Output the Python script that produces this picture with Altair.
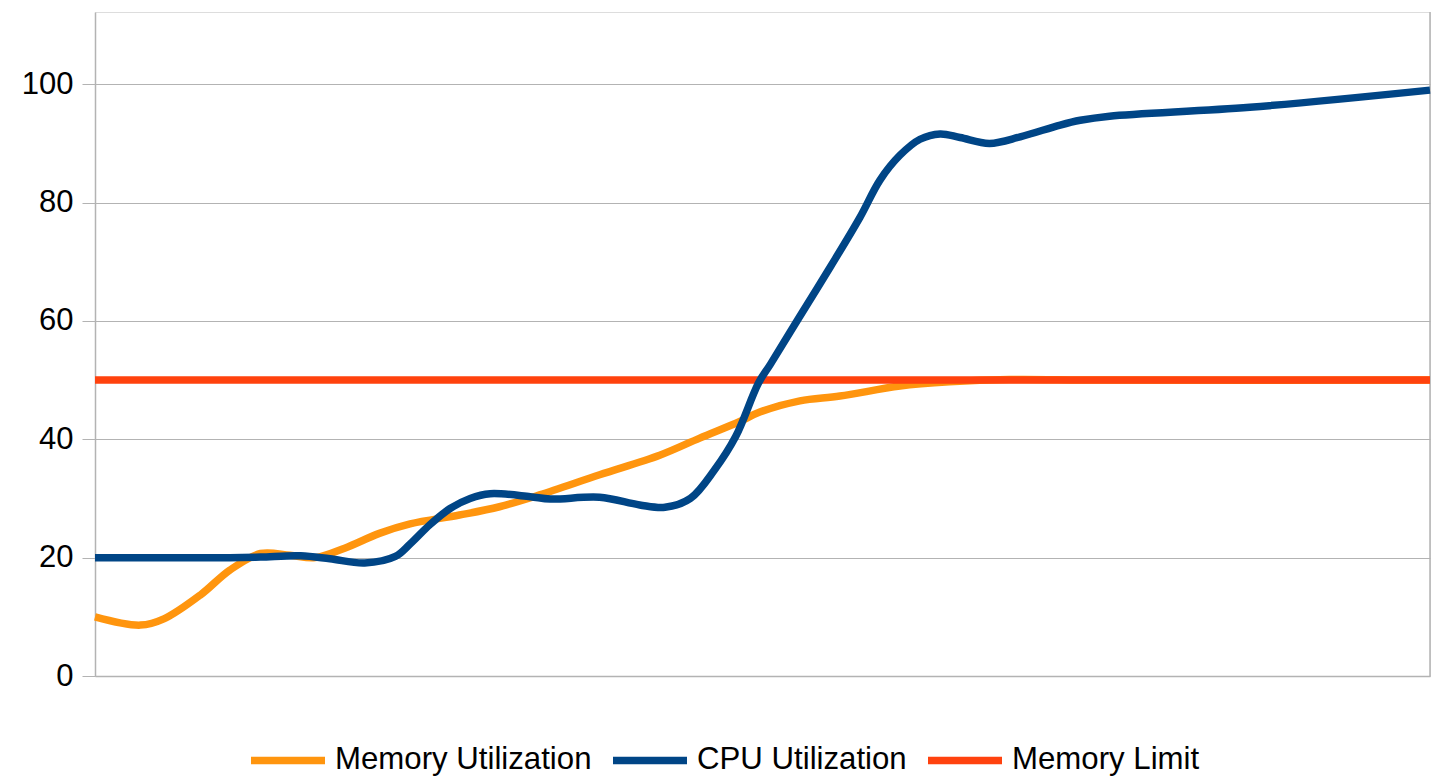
import altair as alt
import pandas as pd

# Time axis (0..100, unlabeled in the reference)
mem_x = [0, 3.4, 5.2, 7.9, 10.1, 12.4, 14.6, 16.5, 18.7, 21.3, 23.6, 27.3, 30.3, 33.3,
         37.8, 42.3, 45.3, 48.3, 49.8, 52.8, 55.8, 60.3, 64.0, 68.5, 75.3, 100]
mem_y = [10, 8.6, 9.7, 13.7, 17.9, 20.7, 20.4, 20.0, 21.6, 24.1, 25.7, 27.2, 28.6, 30.6,
         34, 37.3, 40.2, 43, 44.6, 46.5, 47.3, 49, 49.7, 50.1, 50, 50]

cpu_x = [0, 10.1, 12.4, 15.4, 17.6, 20.2, 22.5, 23.6, 25.1, 26.6, 28.1, 29.6, 32.6, 34.1,
         37.8, 40.8, 42.7, 44.6, 46.4, 48.0, 49.7, 50.6, 52.8, 55.1, 57.3, 58.8, 60.3,
         61.8, 63.3, 64.8, 67.0, 69.3, 72.3, 73.8, 76.0, 86.5, 100]
cpu_y = [20, 20, 20.1, 20.3, 19.8, 19.1, 20.2, 22.3, 25.6, 28.3, 30.0, 30.8, 30.3, 29.9,
         30.2, 28.9, 28.5, 30, 34.8, 40.5, 49.5, 52.7, 60.8, 69.2, 77.5, 83.8, 88.0,
         90.7, 91.6, 91, 90.0, 91.1, 93.1, 93.9, 94.6, 96.1, 99]

lim_x = [0, 100]
lim_y = [50, 50]

series_names = ["Memory Utilization", "CPU Utilization", "Memory Limit"]
series_colors = ["#ff950e", "#004586", "#ff420e"]
y_ticks = [0, 20, 40, 60, 80, 100]

df_mem = pd.DataFrame({"t": mem_x, "v": mem_y, "s": series_names[0]})
df_cpu = pd.DataFrame({"t": cpu_x, "v": cpu_y, "s": series_names[1]})
df_lim = pd.DataFrame({"t": lim_x, "v": lim_y, "s": series_names[2]})

x_enc = alt.X("t:Q", scale=alt.Scale(domain=[0, 100], nice=False, zero=False),
              axis=alt.Axis(title=None, labels=False, ticks=False, grid=False,
                            domainColor="#b3b3b3", domainWidth=1.5))
y_enc = alt.Y("v:Q", scale=alt.Scale(domain=[0, 112.2], nice=False),
              axis=alt.Axis(title=None, values=y_ticks, grid=True, gridColor="#b3b3b3",
                            gridWidth=1, tickColor="#b3b3b3", tickSize=13, tickWidth=1,
                            domainColor="#b3b3b3", domainWidth=1.5,
                            labelFont="Liberation Sans", labelFontSize=31,
                            labelColor="#000000", labelPadding=9))
color_enc = alt.Color("s:N",
                      scale=alt.Scale(domain=series_names, range=series_colors),
                      legend=alt.Legend(title=None, orient="none", direction="horizontal",
                                        legendX=152, legendY=707,
                                        symbolType="stroke", symbolSize=5476,
                                        symbolStrokeWidth=7.5,
                                        labelFont="Liberation Sans", labelFontSize=31.2,
                                        labelColor="#000000", labelOffset=6,
                                        columnPadding=6, labelLimit=400))

def line(df):
    return alt.Chart(df).mark_line(strokeWidth=7.5, interpolate="catmull-rom",
                                   strokeCap="butt").encode(x=x_enc, y=y_enc, color=color_enc)

right_border = alt.Chart(pd.DataFrame({"t": [100]})).mark_rule(
    color="#b3b3b3", strokeWidth=1.5).encode(x=alt.X("t:Q"))

chart = alt.layer(right_border, line(df_mem), line(df_lim), line(df_cpu)).properties(
    width=1335, height=664,
    autosize=alt.AutoSizeParams(type="none"),
    padding={"left": 87, "top": 4, "right": 2, "bottom": 104},
).configure_view(stroke=None).configure(background="#ffffff")

chart.save("out.html", embed_options={"renderer": "svg", "actions": False})
